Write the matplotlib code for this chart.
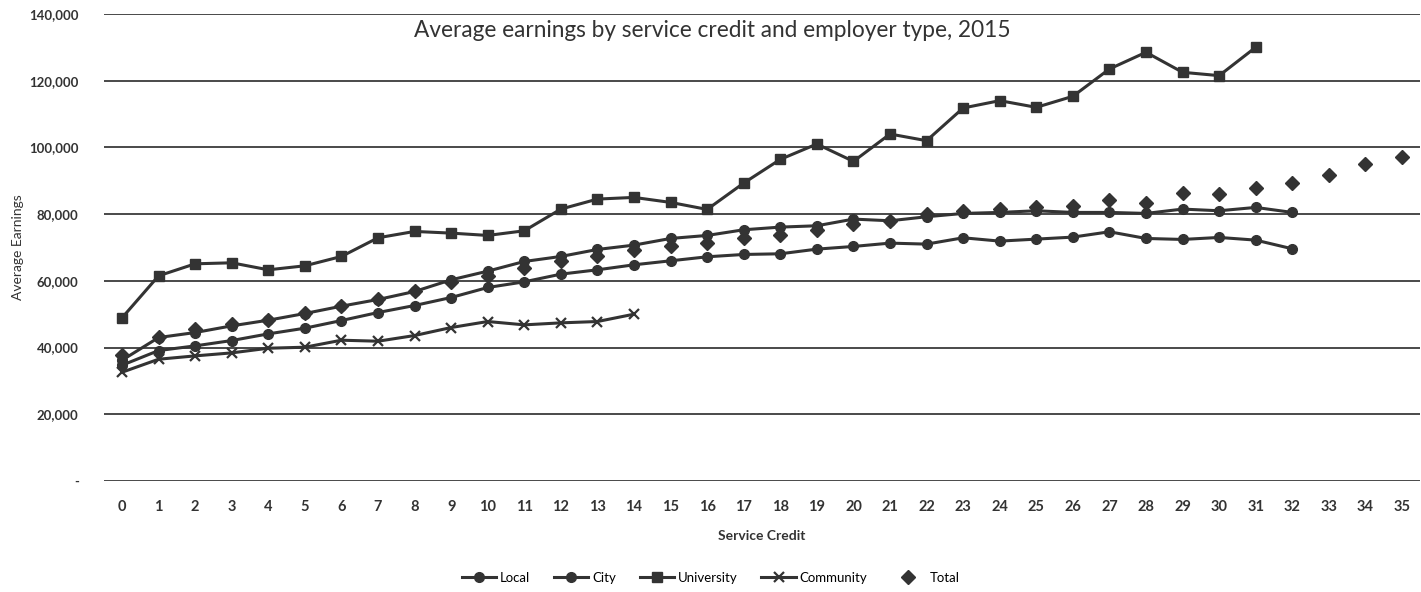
import matplotlib
matplotlib.use("Agg")
import matplotlib.pyplot as plt
import numpy as np
from matplotlib.ticker import FixedLocator

# service credit categories
credit = list(range(36))

# average earnings
local = [34700, 39100, 40500, 42100, 44100, 45800, 48100, 50500, 52600, 55000,
         58000, 59700, 62000, 63300, 64800, 66000, 67200, 67900, 68100, 69500,
         70300, 71300, 71000, 72900, 71900, 72500, 73100, 74700, 72700, 72400,
         73000, 72200, 69600]
city = [36200, 43000, 44500, 46500, 48200, 50200, 52400, 54400, 56800, 60300,
        62900, 65800, 67300, 69400, 70700, 72700, 73600, 75300, 76100, 76500,
        78500, 78000, 79200, 80200, 80500, 81000, 80500, 80500, 80200, 81500,
        81000, 82000, 80500]
university = [48900, 61500, 65100, 65400, 63300, 64500, 67300, 72900, 74800, 74300,
              73600, 75000, 81500, 84500, 85000, 83500, 81400, 89300, 96400, 101000,
              95800, 104000, 102000, 111800, 114000, 112000, 115300, 123500, 128500,
              122500, 121500, 130000]
community = [32600, 36500, 37500, 38400, 39800, 40100, 42200, 41900, 43600, 46000,
             47800, 46800, 47400, 47800, 50000]
total = [37800, 43200, 45500, 47000, 48300, 50300, 52600, 54600, 57000, 59500,
         61500, 63900, 65800, 67500, 69300, 70400, 71400, 72700, 73600, 75100,
         77000, 78000, 80000, 80800, 81600, 82000, 82400, 84300, 83400, 86300,
         85900, 87800, 89300, 91700, 95000, 97000]

y_ticks = [0, 20000, 40000, 60000, 80000, 100000, 120000, 140000]
y_labels = ["-", "20,000", "40,000", "60,000", "80,000", "100,000", "120,000", "140,000"]

INK = "#333333"
plt.rcParams["font.family"] = ["Lato", "DejaVu Sans"]

fig = plt.figure(figsize=(14.21, 5.92), dpi=100)
ax = fig.add_axes([0.073, 0.1875, 0.9265, 0.789])

lw = 2.2
ax.plot(credit[:len(local)], local, "-o", color=INK, lw=lw, ms=7, label="Local", zorder=3)
ax.plot(credit[:len(city)], city, "-o", color=INK, lw=lw, ms=7, label="City", zorder=3)
ax.plot(credit[:len(university)], university, "-s", color=INK, lw=lw, ms=7.5, label="University", zorder=3)
ax.plot(credit[:len(community)], community, "-x", color=INK, lw=lw, ms=7.5, mew=1.6,
        label="Community", zorder=3)
ax.plot(credit[:len(total)], total, "D", color=INK, ms=7, ls="none", label="Total", zorder=4)

ax.set_xlim(-0.5, 35.5)
ax.set_ylim(0, 140000)
ax.set_xticks(credit)
ax.set_xticklabels([str(c) for c in credit], fontsize=10.5, fontweight="bold", color=INK)
ax.yaxis.set_major_locator(FixedLocator(y_ticks))
ax.set_yticklabels(y_labels, fontsize=9.5, fontweight="bold", color=INK)
ax.tick_params(axis="x", length=0, pad=14)
ax.tick_params(axis="y", length=0, pad=18)
ax.grid(axis="y", color="#2a2a2a", lw=1.2)
ax.set_axisbelow(True)
for s in ax.spines.values():
    s.set_visible(False)

ax.set_xlabel("Service Credit", fontsize=10, fontweight="bold", color=INK, labelpad=11)
fig.text(18 / 1421, 0.582, "Average Earnings", rotation=90, ha="center", va="center",
         fontsize=10, color=INK)

fig.text(0.501, 0.948, "Average earnings by service credit and employer type, 2015",
         ha="center", va="center", fontsize=16.3, color=INK)

fig.legend(loc="center", bbox_to_anchor=(0.500, 0.024), ncol=5, frameon=False,
           fontsize=9.5, handlelength=2.6, columnspacing=1.8, handletextpad=0.3)

fig.savefig("out.png", dpi=100)
